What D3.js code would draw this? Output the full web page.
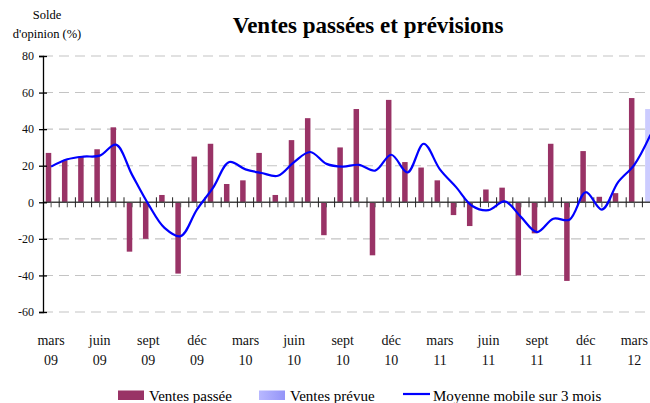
<!DOCTYPE html>
<html>
<head>
<meta charset="utf-8">
<script src="https://cdn.jsdelivr.net/npm/d3@7"></script>
<style>
  html, body { margin: 0; padding: 0; background: #fff; }
  svg { display: block; }
</style>
</head>
<body>
<div id="chart"></div>
<script>
const width = 650;
const height = 403;
const serif = "'Liberation Serif', 'Times New Roman', serif";

// mois (mars 09 -> avr 12)
const mois = ["mars 09", "avr 09", "mai 09", "juin 09", "juil 09", "août 09", "sept 09", "oct 09", "nov 09", "déc 09",
    "janv 10", "févr 10", "mars 10", "avr 10", "mai 10", "juin 10", "juil 10", "août 10", "sept 10", "oct 10", "nov 10", "déc 10",
    "janv 11", "févr 11", "mars 11", "avr 11", "mai 11", "juin 11", "juil 11", "août 11", "sept 11", "oct 11", "nov 11", "déc 11",
    "janv 12", "févr 12", "mars 12", "avr 12"];

// soldes d'opinion, ventes passées
const ventesPassees = [27, 23, 25, 29, 41, -27, -20, 4, -39, 25, 32, 10, 12, 27, 4, 34, 46, -18, 30, 51, -29, 56,
    22, 19, 12, -7, -13, 7, 8, -40, -17, 32, -43, 28, 3, 5, 57];

// ventes prévues
const moisPrevus = ["avr 12"];
const ventesPrevues = [51];

// moyenne mobile sur 3 mois
const moyenneMobile = [19.5, 23.5, 25, 25.5, 31.5, 15, -1, -14, -18.5, -4, 8, 22, 18, 16, 14.5, 22, 27.5, 21, 19.5,
    20.5, 17.3, 26, 16.3, 32, 18, 8.3, -2, -4.3, 0.5, -8, -16.3, -9, -9.5, 5.5, -4, 11, 20.5, 37];

const yTicks = [80, 60, 40, 20, 0, -20, -40, -60];

const svg = d3.select("#chart")
    .append("svg")
    .attr("width", width)
    .attr("height", height)
    .attr("font-family", serif);

const x = d3.scaleBand()
    .domain(mois)
    .range([43, 658.6])
    .padding(0);

const y = d3.scaleLinear()
    .domain([-60, 80])
    .range([312, 56]);

const bw = x.bandwidth();
const barW = 5.5;

// grille pointillée
svg.append("g")
    .selectAll("line")
    .data(yTicks.filter(d => d !== 0))
    .enter()
    .append("line")
    .attr("x1", 43)
    .attr("x2", 658)
    .attr("y1", d => y(d))
    .attr("y2", d => y(d))
    .attr("stroke", "#c4c4c4")
    .attr("stroke-width", 1.1)
    .attr("stroke-dasharray", "10,6");

// barres ventes passées
svg.append("g")
    .selectAll("rect")
    .data(ventesPassees)
    .enter()
    .append("rect")
    .attr("x", (d, i) => x(mois[i]) + 2.75)
    .attr("width", barW)
    .attr("y", d => y(Math.max(0, d)))
    .attr("height", d => Math.abs(y(d) - y(0)))
    .attr("fill", "#993366");

// barre ventes prévues
svg.append("g")
    .selectAll("rect")
    .data(ventesPrevues)
    .enter()
    .append("rect")
    .attr("x", (d, i) => x(moisPrevus[i]) + 2.75)
    .attr("width", barW + 0.5)
    .attr("y", d => y(Math.max(0, d)))
    .attr("height", d => Math.abs(y(d) - y(0)))
    .attr("fill", "#ccccff");

// axe zéro + graduations
const zero = y(0);
svg.append("line")
    .attr("x1", 43).attr("x2", 658)
    .attr("y1", zero).attr("y2", zero)
    .attr("stroke", "#444")
    .attr("stroke-width", 1.4);

svg.append("g")
    .selectAll("line")
    .data(mois)
    .enter()
    .append("line")
    .attr("x1", d => x(d) + bw)
    .attr("x2", d => x(d) + bw)
    .attr("y1", zero - 5)
    .attr("y2", zero + 5)
    .attr("stroke", "#222")
    .attr("stroke-width", 1);

svg.append("g")
    .selectAll("line")
    .data(mois)
    .enter()
    .append("line")
    .attr("x1", d => x(d) + bw / 2)
    .attr("x2", d => x(d) + bw / 2)
    .attr("y1", zero)
    .attr("y2", zero + 5)
    .attr("stroke", "#555")
    .attr("stroke-width", 1);

// axe vertical
const yAxis = svg.append("g")
    .attr("transform", "translate(43,0)")
    .call(d3.axisLeft(y).tickValues(yTicks).tickSize(4).tickFormat(d => String(d)));
yAxis.attr("font-family", serif);
yAxis.select(".domain").attr("stroke", "#000").attr("stroke-width", 1.3);
yAxis.selectAll(".tick line").attr("x2", 4).attr("x1", -4).attr("stroke", "#000").attr("stroke-width", 1.3);
yAxis.selectAll(".tick text")
    .attr("x", -9)
    .attr("font-size", 12)
    .attr("fill", "#111");

// moyenne mobile
const line = d3.line()
    .x((d, i) => x(mois[i]) + bw / 2)
    .y(d => y(d))
    .curve(d3.curveCatmullRom.alpha(0.5));

svg.append("path")
    .datum(moyenneMobile)
    .attr("d", line)
    .attr("fill", "none")
    .attr("stroke", "#0000ff")
    .attr("stroke-width", 2.2);

// étiquettes des mois (un sur trois)
const xLab = svg.append("g")
    .selectAll("text")
    .data(mois.filter((d, i) => i % 3 === 0))
    .enter()
    .append("text")
    .attr("text-anchor", "middle")
    .attr("font-size", 14)
    .attr("fill", "#111");
xLab.append("tspan")
    .attr("x", d => x(d) + bw / 2)
    .attr("y", 345)
    .text(d => d.split(" ")[0]);
xLab.append("tspan")
    .attr("x", d => x(d) + bw / 2)
    .attr("y", 365)
    .text(d => d.split(" ")[1]);

// titres
svg.append("text")
    .attr("x", 368)
    .attr("y", 33)
    .attr("text-anchor", "middle")
    .attr("font-size", 23)
    .attr("font-weight", "bold")
    .text("Ventes passées et prévisions");

svg.append("text")
    .attr("x", 47)
    .attr("y", 19)
    .attr("text-anchor", "middle")
    .attr("font-size", 12.5)
    .text("Solde");
svg.append("text")
    .attr("x", 47)
    .attr("y", 38)
    .attr("text-anchor", "middle")
    .attr("font-size", 12.5)
    .text("d'opinion (%)");

// légende
const defs = svg.append("defs");
const grad = defs.append("linearGradient").attr("id", "prevGrad");
grad.append("stop").attr("offset", "0%").attr("stop-color", "#b8b8ff");
grad.append("stop").attr("offset", "100%").attr("stop-color", "#9494f8");

const legend = svg.append("g").attr("font-size", 15);
legend.append("rect").attr("x", 118).attr("y", 390.5).attr("width", 26).attr("height", 9.5).attr("fill", "#993366");
legend.append("text").attr("x", 149).attr("y", 400.5).text("Ventes passée");
legend.append("rect").attr("x", 259).attr("y", 390.5).attr("width", 26).attr("height", 9.5).attr("fill", "url(#prevGrad)");
legend.append("text").attr("x", 290).attr("y", 400.5).text("Ventes prévue");
legend.append("line").attr("x1", 403).attr("x2", 430).attr("y1", 394).attr("y2", 394)
    .attr("stroke", "#0000ff").attr("stroke-width", 2.2);
legend.append("text").attr("x", 433).attr("y", 400.5).text("Moyenne mobile sur 3 mois");
</script>
</body>
</html>
